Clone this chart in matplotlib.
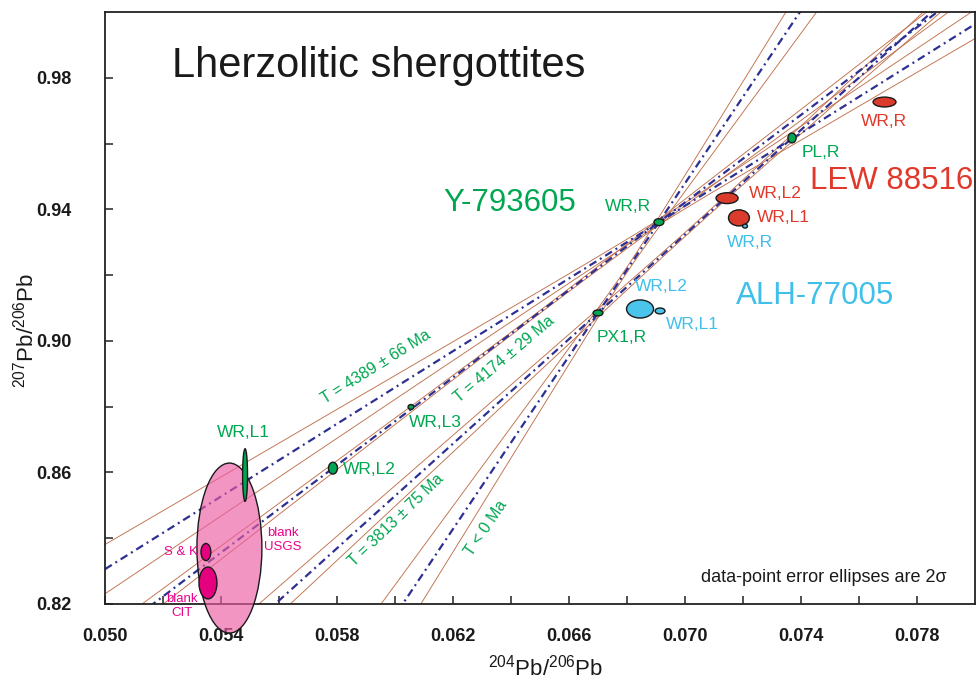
import numpy as np
import matplotlib
matplotlib.use("Agg")
import matplotlib.pyplot as plt
from matplotlib.patches import Ellipse
from matplotlib.ticker import FormatStrFormatter

plt.rcParams['font.family'] = ['Liberation Sans', 'DejaVu Sans']
plt.rcParams['mathtext.default'] = 'regular'

# ---------------- data ----------------
x_major = [0.050, 0.054, 0.058, 0.062, 0.066, 0.070, 0.074, 0.078]
x_minor = [0.052, 0.056, 0.060, 0.064, 0.068, 0.072, 0.076]
y_major = [0.82, 0.86, 0.90, 0.94, 0.98]
y_minor = [0.84, 0.88, 0.92, 0.96]

# isochron lines: anchor point, slope, envelope (narrowest x, min half-width, growth)
iso_names = ["T = 4389 \u00b1 66 Ma", "T = 4174 \u00b1 29 Ma", "T = 3813 \u00b1 75 Ma", "T < 0 Ma"]
iso_x0 = [0.0691, 0.05786, 0.0670, 0.0670]
iso_y0 = [0.9361, 0.8613, 0.9085, 0.9085]
iso_slope = [5.524, 6.655, 7.95, 13.14]
env_xm = [0.0690, 0.0650, 0.0705, 0.0680]
env_w0 = [0.0008, 0.0004, 0.0006, 0.0008]
env_k = [0.392, 0.18, 0.29, 1.15]
iso_label_x = [0.05934, 0.06375, 0.06003, 0.06314]
iso_label_y = [0.8921, 0.8945, 0.8455, 0.8431]
iso_label_rot = [32, 40, 44, 56]

# Y-793605 (green)
y79_labels = ["WR,L1", "WR,L2", "WR,L3", "PX1,R", "WR,R", "PL,R"]
y79_x = [0.05483, 0.05786, 0.06055, 0.06700, 0.06910, 0.07369]
y79_y = [0.8592, 0.8613, 0.8799, 0.9085, 0.9361, 0.9617]
y79_w = [0.00017, 0.00031, 0.00020, 0.00034, 0.00034, 0.00028]
y79_h = [0.0160, 0.0036, 0.0015, 0.0018, 0.0021, 0.0030]

# LEW 88516 (red)
lew_labels = ["WR,R", "WR,L2", "WR,L1"]
lew_x = [0.07688, 0.07145, 0.07186]
lew_y = [0.97263, 0.9434, 0.9374]
lew_w = [0.00079, 0.00076, 0.00072]
lew_h = [0.0030, 0.0033, 0.0049]

# ALH-77005 (cyan)
alh_labels = ["WR,R", "WR,L2", "WR,L1"]
alh_x = [0.07207, 0.06845, 0.06914]
alh_y = [0.9349, 0.9097, 0.9091]
alh_w = [0.00017, 0.00093, 0.00034]
alh_h = [0.0012, 0.0055, 0.0018]

# blanks (pink)
blank_labels = ["blank\nUSGS", "S & K", "blank\nCIT"]
blank_x = [0.05429, 0.05348, 0.05355]
blank_y = [0.8370, 0.8358, 0.8264]
blank_w = [0.00224, 0.00034, 0.00062]
blank_h = [0.0517, 0.0052, 0.0097]

# ---------------- colours ----------------
GREEN = '#00A652'
RED = '#DA3B2B'
CYAN = '#4BC4EC'
PINK = (235/255, 92/255, 163/255, 0.65)
MAGENTA = '#E4007F'
BLUE = '#2D3092'
BROWN = '#C0704C'
GREEN_T = '#00A651'
RED_T = '#E0392B'
CYAN_T = '#3FBFEA'
MAG_T = '#EC008C'

fig = plt.figure(figsize=(9.76, 6.87), dpi=100)
ax = fig.add_axes([105/976, 83/687, 870/976, 592/687])
ax.set_xlim(0.050, 0.080)
ax.set_ylim(0.82, 1.00)

# isochrons
xg = np.linspace(0.050, 0.080, 600)
for i in range(len(iso_names)):
    yc = iso_y0[i] + iso_slope[i] * (xg - iso_x0[i])
    w = np.sqrt(env_w0[i]**2 + (env_k[i] * (xg - env_xm[i]))**2)
    ax.plot(xg, yc + w, color=BROWN, lw=0.65, zorder=2)
    ax.plot(xg, yc - w, color=BROWN, lw=0.65, zorder=2)
    ax.plot(xg, yc, color=BLUE, lw=1.6, ls=(0, (3.6, 1.9, 0.9, 1.9)), zorder=2.2)
    ax.text(iso_label_x[i], iso_label_y[i], iso_names[i], color=GREEN_T, fontsize=11.5,
            rotation=iso_label_rot[i], ha='center', va='center', rotation_mode='anchor', zorder=6)

def draw(xs, ys, ws, hs, fc, z=5, clip=True):
    for x, y, w, h in zip(xs, ys, ws, hs):
        e = Ellipse((x, y), w, h, facecolor=fc, edgecolor='#1a1a1a', lw=1.0, zorder=z, clip_on=clip)
        ax.add_patch(e)

# blanks
ax.add_patch(Ellipse((blank_x[0], blank_y[0]), blank_w[0], blank_h[0], facecolor=PINK,
                     edgecolor='#1a1a1a', lw=1.0, zorder=3, clip_on=False))
draw(blank_x[1:], blank_y[1:], blank_w[1:], blank_h[1:], MAGENTA, z=5)
draw(y79_x, y79_y, y79_w, y79_h, GREEN)
draw(lew_x, lew_y, lew_w, lew_h, RED)
draw(alh_x, alh_y, alh_w, alh_h, CYAN)

fs = 12.5
g_pos = [(0.05476, 0.8720, 'center'), (0.05821, 0.8610, 'left'), (0.06048, 0.8753, 'left'),
         (0.06783, 0.9009, 'center'), (0.06803, 0.9410, 'center'), (0.07403, 0.9574, 'left')]
for lab, (x, y, ha) in zip(y79_labels, g_pos):
    ax.text(x, y, lab, color=GREEN_T, fontsize=fs, ha=ha, va='center', zorder=6)
r_pos = [(0.07686, 0.9666, 'center'), (0.07221, 0.9447, 'left'), (0.07248, 0.9374, 'left')]
for lab, (x, y, ha) in zip(lew_labels, r_pos):
    ax.text(x, y, lab, color=RED_T, fontsize=fs, ha=ha, va='center', zorder=6)
c_pos = [(0.07224, 0.9298, 'center'), (0.06917, 0.9164, 'center'), (0.06934, 0.9051, 'left')]
for lab, (x, y, ha) in zip(alh_labels, c_pos):
    ax.text(x, y, lab, color=CYAN_T, fontsize=fs, ha=ha, va='center', zorder=6)
b_pos = [(0.05614, 0.8395), (0.05262, 0.8358), (0.05266, 0.8194)]
for lab, (x, y) in zip(blank_labels, b_pos):
    ax.text(x, y, lab, color=MAG_T, fontsize=9.5, ha='center', va='center', zorder=6,
            linespacing=1.15)

# big labels
ax.text(0.05231, 0.9802, "Lherzolitic shergottites", fontsize=30, color='#1a1a1a',
        ha='left', va='baseline')
ax.text(0.06397, 0.9419, "Y-793605", fontsize=22.5, color=GREEN_T, ha='center', va='center')
ax.text(0.07714, 0.9486, "LEW 88516", fontsize=22.5, color=RED_T, ha='center', va='center')
ax.text(0.07448, 0.9136, "ALH-77005", fontsize=22.5, color=CYAN_T, ha='center', va='center')
ax.text(0.07903, 0.8282, "data-point error ellipses are 2\u03c3", fontsize=13,
        color='#1a1a1a', ha='right', va='center')

# axes styling
for s in ax.spines.values():
    s.set_linewidth(1.3)
    s.set_color('#222222')
ax.set_xticks(x_major)
ax.set_xticks(x_minor, minor=True)
ax.xaxis.set_major_formatter(FormatStrFormatter('%.3f'))
ax.set_yticks(y_major)
ax.set_yticks(y_minor, minor=True)
ax.yaxis.set_major_formatter(FormatStrFormatter('%.2f'))
ax.tick_params(which='both', direction='in', length=5.5, width=1.1, color='#222222',
               top=False, right=False)
ax.tick_params(axis='x', which='major', pad=17, labelsize=13)
ax.tick_params(axis='y', which='major', pad=24, labelsize=13)
for t in ax.get_xticklabels() + ax.get_yticklabels():
    t.set_fontweight('bold')
    t.set_color('#1a1a1a')

ax.set_xlabel("$^{204}$Pb/$^{206}$Pb", fontsize=16, color='#1a1a1a')
ax.set_ylabel("$^{207}$Pb/$^{206}$Pb", fontsize=16, color='#1a1a1a')
ax.xaxis.set_label_coords(0.506, -0.085)
ax.yaxis.set_label_coords(-0.077, 0.463)

fig.savefig("out.png", dpi=100)
